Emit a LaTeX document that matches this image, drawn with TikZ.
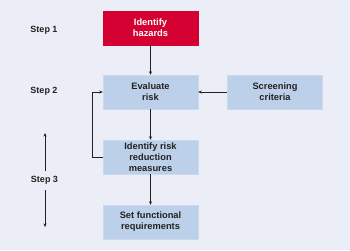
\documentclass[tikz,border=0pt]{standalone}
\usepackage{fontspec}
\setmainfont{Liberation Sans}
\usetikzlibrary{arrows.meta}
\definecolor{bg}{HTML}{EBEDF7}
\definecolor{boxblue}{HTML}{BDD0EA}
\definecolor{boxred}{HTML}{D50032}
\definecolor{txt}{HTML}{222222}
\begin{document}
\begin{tikzpicture}[x=1pt,y=-1pt,
  box/.style={minimum width=95pt,minimum height=34pt,inner sep=0pt,align=center,
    font=\fontsize{9.3}{11}\selectfont\bfseries,text=txt,fill=boxblue,draw=boxblue!80!white},
  redbox/.style={box,fill=boxred,draw=boxred,text=white},
  steplabel/.style={font=\fontsize{9}{11}\selectfont\bfseries,text=txt},
  conn/.style={draw=txt,line width=0.6pt,-{Stealth[length=3.5pt,width=3pt]}}]
\fill[bg] (0,0) rectangle (350,250);
\useasboundingbox (0,0) rectangle (350,250);
\node[redbox] (haz) at (150.5,28) {Identify\\hazards};
\node[box] (eval) at (150.5,92) {Evaluate\\risk};
\node[box] (screen) at (275,92) {Screening\\criteria};
\node[box] (meas) at (150.5,157) {Identify risk\\reduction\\measures};
\node[box] (req) at (150.5,222) {Set functional\\requirements};
\node[steplabel] (s1) at (44,30) {Step 1};
\node[steplabel] (s2) at (44,91) {Step 2};
\node[steplabel] (s3) at (44.5,180) {Step 3};
\coordinate (upstart) at (45,171);
\coordinate (up) at (45,133);
\coordinate (downstart) at (45,190);
\coordinate (down) at (45,227);
\draw[conn] (haz) -- (eval);
\draw[conn] (eval) -- (meas);
\draw[conn] (meas) -- (req);
\draw[conn] (screen) -- (eval);
\draw[conn] (meas.west) -- ++(-11,0) |- (eval.west);
\draw[conn] (upstart) -- (up);
\draw[conn] (downstart) -- (down);
\end{tikzpicture}
\end{document}
